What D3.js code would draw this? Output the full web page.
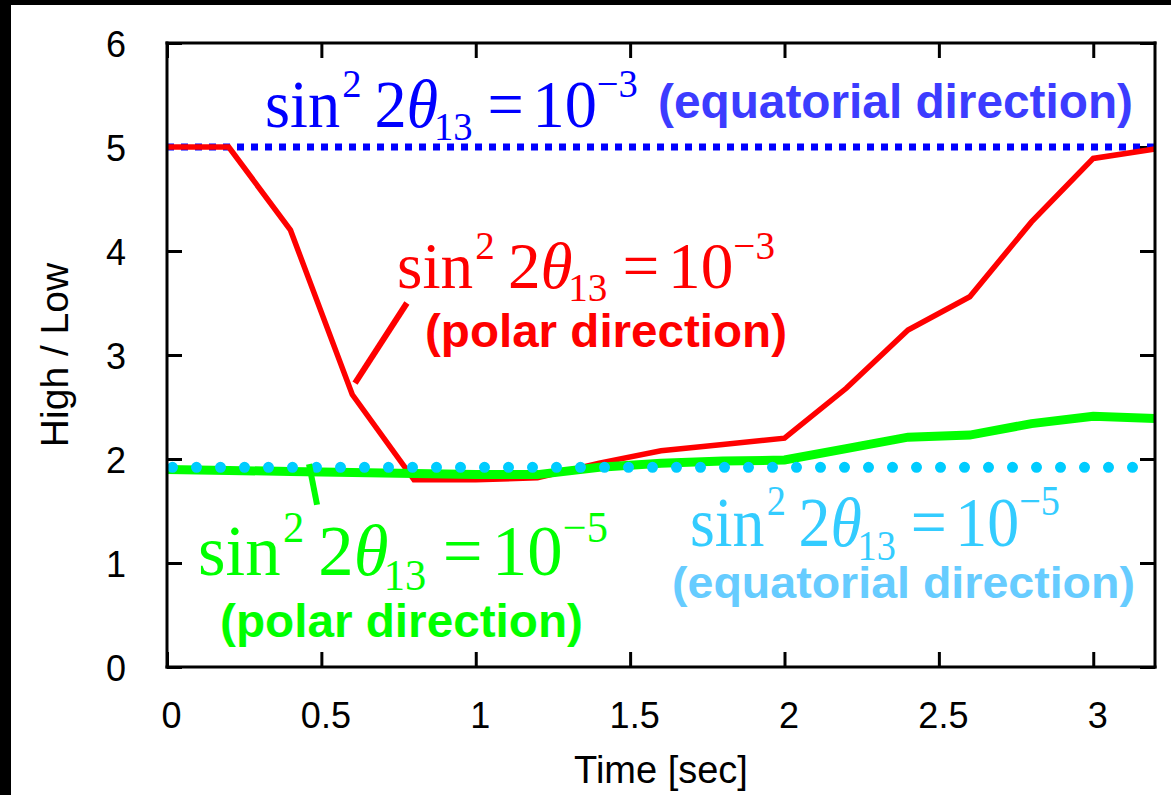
<!DOCTYPE html>
<html>
<head>
<meta charset="utf-8">
<script src="https://cdn.jsdelivr.net/npm/d3@7"></script>
<style>
  html, body { margin: 0; background: #fff; overflow: hidden; }
  svg { display: block; }
</style>
</head>
<body>
<div id="chart"></div>
<script>
// time axis (sec)
const times = [0, 0.2, 0.4, 0.6, 0.8, 1.0, 1.2, 1.4, 1.6, 1.8, 2.0, 2.2, 2.4, 2.6, 2.8, 3.0, 3.2];
// sin^2 2theta13 = 1e-3, polar direction
const polar3 = [5.0, 5.0, 4.2, 2.62, 1.8, 1.8, 1.82, 1.96, 2.08, 2.14, 2.2, 2.68, 3.24, 3.56, 4.28, 4.89, 4.98];
// sin^2 2theta13 = 1e-5, polar direction
const polar5 = [1.9, 1.89, 1.88, 1.87, 1.86, 1.85, 1.85, 1.92, 1.96, 1.98, 1.99, 2.1, 2.21, 2.23, 2.34, 2.41, 2.39];
// equatorial direction levels (constant)
const equat3 = 5.0;
const equat5 = 1.92;

const xTicks = [0, 0.5, 1, 1.5, 2, 2.5, 3];
const yTicks = [0, 1, 2, 3, 4, 5, 6];
const xTickLabels = ["0", "0.5", "1", "1.5", "2", "2.5", "3"];
const yTickLabels = ["0", "1", "2", "3", "4", "5", "6"];

const W = 1171, H = 795;
const margin = {top: 43, right: 16, bottom: 128, left: 167};
const width = W - margin.left - margin.right,
      height = H - margin.top - margin.bottom;

const sans = "'Liberation Sans', Arial, sans-serif";
const serif = "'Liberation Serif', 'Times New Roman', serif";

const svg = d3.select("#chart")
    .append("svg")
    .attr("width", W)
    .attr("height", H);

svg.append("rect").attr("width", W).attr("height", H).attr("fill", "#fff");
// black strips of the original slide
svg.append("rect").attr("x", 0).attr("y", 0).attr("width", W).attr("height", 5).attr("fill", "#000");
svg.append("rect").attr("x", 0).attr("y", 0).attr("width", 11).attr("height", H).attr("fill", "#000");

const chart = svg.append("g")
    .attr("transform", `translate(${margin.left}, ${margin.top})`);

const x = d3.scaleLinear().domain([0, 3.2]).range([0, width]);
const y = d3.scaleLinear().domain([0, 6]).range([height, 0]);

// ticks (inward, mirrored)
const tickLen = 15;
chart.append("g")
    .attr("transform", `translate(0, ${height})`)
    .call(d3.axisBottom(x).tickValues(xTicks).tickSizeInner(-tickLen).tickSizeOuter(0)
        .tickFormat((d, i) => xTickLabels[i]).tickPadding(tickLen + 20))
    .call(g => g.select(".domain").remove())
    .call(g => g.selectAll("line").attr("stroke", "#000").attr("stroke-width", 3))
    .call(g => g.selectAll("text").attr("font-family", sans).attr("font-size", 36).attr("fill", "#000")
        .attr("dx", 4));

chart.append("g")
    .call(d3.axisTop(x).tickValues(xTicks).tickSizeInner(-tickLen).tickSizeOuter(0).tickFormat(""))
    .call(g => g.select(".domain").remove())
    .call(g => g.selectAll("line").attr("stroke", "#000").attr("stroke-width", 3));

chart.append("g")
    .call(d3.axisLeft(y).tickValues(yTicks).tickSizeInner(-tickLen).tickSizeOuter(0)
        .tickFormat((d, i) => yTickLabels[i]).tickPadding(tickLen + 26))
    .call(g => g.select(".domain").remove())
    .call(g => g.selectAll("line").attr("stroke", "#000").attr("stroke-width", 3))
    .call(g => g.selectAll("text").attr("font-family", sans).attr("font-size", 36).attr("fill", "#000")
        .attr("dy", "0.38em"));

chart.append("g")
    .attr("transform", `translate(${width}, 0)`)
    .call(d3.axisRight(y).tickValues(yTicks).tickSizeInner(-tickLen).tickSizeOuter(0).tickFormat(""))
    .call(g => g.select(".domain").remove())
    .call(g => g.selectAll("line").attr("stroke", "#000").attr("stroke-width", 3));

// axis titles
svg.append("text")
    .attr("x", margin.left + width / 2)
    .attr("y", 783)
    .attr("text-anchor", "middle")
    .attr("font-family", sans)
    .attr("font-size", 38)
    .text("Time [sec]");

svg.append("text")
    .attr("transform", `translate(68, 355) rotate(-90)`)
    .attr("text-anchor", "middle")
    .attr("font-family", sans)
    .attr("font-size", 39)
    .text("High / Low");

// series
const line = d3.line()
    .x((d, i) => x(times[i]))
    .y(d => y(d));

chart.append("line")
    .attr("x1", x(0)).attr("x2", x(3.2))
    .attr("y1", y(equat3)).attr("y2", y(equat3))
    .attr("stroke", "#0000ff")
    .attr("stroke-width", 7)
    .attr("stroke-dasharray", "7,7");

chart.append("path")
    .datum(polar3)
    .attr("d", line)
    .attr("fill", "none")
    .attr("stroke", "#ff0000")
    .attr("stroke-width", 5.5);

chart.append("path")
    .datum(polar5)
    .attr("d", line)
    .attr("fill", "none")
    .attr("stroke", "#00ff00")
    .attr("stroke-width", 9);

chart.append("line")
    .attr("x1", x(0)).attr("x2", x(3.2))
    .attr("y1", y(equat5)).attr("y2", y(equat5))
    .attr("stroke", "#00ccff")
    .attr("stroke-width", 11)
    .attr("stroke-linecap", "round")
    .attr("stroke-dasharray", "0,24")
    .attr("stroke-dashoffset", -5.5);

// pointer lines
chart.append("line")
    .attr("x1", x(0.609)).attr("y1", y(2.73))
    .attr("x2", x(0.777)).attr("y2", y(3.5))
    .attr("stroke", "#ff0000").attr("stroke-width", 6);

chart.append("line")
    .attr("x1", x(0.460)).attr("y1", y(1.95))
    .attr("x2", x(0.486)).attr("y2", y(1.56))
    .attr("stroke", "#00ff00").attr("stroke-width", 6);

// sin^2 2theta_13 = 10^-n, fitted into a box
function mathLabel(x0, x1, base, capH, color, exp) {
    const t = svg.append("text")
        .attr("font-family", serif)
        .attr("font-size", 60)
        .attr("fill", color);
    t.append("tspan").text("sin");
    t.append("tspan").attr("font-size", 36).attr("dy", -27).attr("dx", 2).text("2");
    t.append("tspan").attr("dy", 27).attr("dx", 12).text("2");
    t.append("tspan").attr("font-style", "italic").text("θ");
    t.append("tspan").attr("font-size", 36).attr("dy", 12).attr("dx", -4).text("13");
    t.append("tspan").attr("dy", -12).attr("dx", 14).text("=");
    t.append("tspan").attr("dx", 8).text("10");
    t.append("tspan").attr("font-size", 36).attr("dy", -27).text("\u2212" + exp);
    const bb = t.node().getBBox();
    const sx = (x1 - x0) / bb.width;
    const sy = capH / (60 * 0.66);
    t.attr("transform", `translate(${x0 - bb.x * sx}, ${base}) scale(${sx}, ${sy})`);
}

function boldLabel(x0, x1, base, size, color, txt) {
    svg.append("text")
        .attr("x", x0)
        .attr("y", base)
        .attr("font-family", sans)
        .attr("font-weight", "bold")
        .attr("font-size", size)
        .attr("fill", color)
        .attr("textLength", x1 - x0)
        .attr("lengthAdjust", "spacingAndGlyphs")
        .text(txt);
}

mathLabel(265, 638, 127, 44, "#0000ff", "3");
boldLabel(658, 1133, 118, 48, "#3c3cff", "(equatorial direction)");

mathLabel(397, 775, 288, 43, "#ff0000", "3");
boldLabel(425, 787, 347, 47, "#ff0000", "(polar direction)");

mathLabel(198, 608, 575, 48, "#00ff00", "5");
boldLabel(220, 583, 637, 46, "#00ff00", "(polar direction)");

mathLabel(690, 1060, 546, 46, "#33ccff", "5");
boldLabel(672, 1135, 598, 45, "#66ccff", "(equatorial direction)");

// frame, drawn as four edges
const frame = [[0, 0, width, 0], [width, 0, width, height], [width, height, 0, height], [0, height, 0, 0]];
chart.append("g")
    .selectAll("line")
    .data(frame)
    .enter()
    .append("line")
    .attr("x1", d => d[0]).attr("y1", d => d[1])
    .attr("x2", d => d[2]).attr("y2", d => d[3])
    .attr("stroke", "#000")
    .attr("stroke-width", 3)
    .attr("stroke-linecap", "square");
</script>
</body>
</html>
